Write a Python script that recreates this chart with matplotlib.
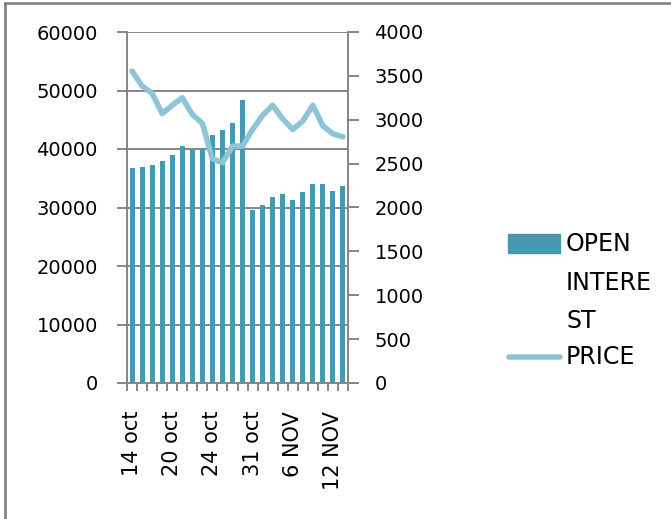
import numpy as np
import matplotlib
matplotlib.use("Agg")
import matplotlib.pyplot as plt
from matplotlib.patches import Rectangle
from matplotlib.lines import Line2D

# data
dates = ["14 oct", "15 oct", "16 oct", "17 oct", "20 oct", "21 oct", "22 oct",
         "23 oct", "24 oct", "25 oct", "28 oct", "29 oct", "31 oct", "1 NOV",
         "4 NOV", "5 NOV", "6 NOV", "7 NOV", "8 NOV", "11 NOV", "12 NOV", "13 NOV"]
open_interest = [36700, 36950, 37300, 38000, 39000, 40550, 39750, 40250, 42350,
                 43300, 44450, 48400, 29650, 30400, 31800, 32300, 31250, 32600,
                 34100, 34100, 32900, 33650]
price = [3555, 3385, 3300, 3070, 3165, 3250, 3060, 2960, 2555, 2510, 2700, 2700,
         2890, 3050, 3165, 3010, 2890, 2985, 3165, 2930, 2840, 2805]
shown_labels = ["14 oct", "20 oct", "24 oct", "31 oct", "6 NOV", "12 NOV"]

plt.rcParams['font.family'] = ['DejaVu Sans']
bar_col = '#4699B1'
line_col = '#8DC4D6'
grey = '#858585'

fig = plt.figure(figsize=(6.71, 5.19), dpi=100)
ax = fig.add_axes([127/671, 1 - 383/519, (348 - 127)/671, (383 - 32)/519])
x = np.arange(len(dates))

ax.set_axisbelow(True)
ax.yaxis.grid(True, color=grey, linewidth=1.4)
ax.bar(x, open_interest, width=0.5, color=bar_col, zorder=2)
ax.set_ylim(0, 60000)
ax.set_yticks(range(0, 60001, 10000))
ax.set_xlim(-0.5, len(dates) - 0.5)

ticks = [i for i, d in enumerate(dates) if d in shown_labels]
ax.set_xticks(ticks)
ax.set_xticklabels([dates[i] for i in ticks], rotation=90, fontsize=15)
ax.set_xticks(np.arange(-0.5, len(dates)), minor=True)
ax.tick_params(axis='x', which='major', length=0, pad=20)
ax.tick_params(axis='x', which='minor', length=6, color=grey, width=1.4)
ax.tick_params(axis='y', length=7, color=grey, width=1.4, labelsize=14, pad=14)

for s in ['top', 'right']:
    ax.spines[s].set_visible(False)
for s in ['left', 'bottom']:
    ax.spines[s].set_color(grey)
    ax.spines[s].set_linewidth(1.4)

ax2 = ax.twinx()
ax2.plot(x, price, color=line_col, linewidth=4, solid_capstyle='round', zorder=3)
ax2.set_ylim(0, 4000)
ax2.set_yticks(range(0, 4001, 500))
ax2.tick_params(axis='y', length=8, color=grey, width=1.4, labelsize=14, pad=11)
for s in ['top', 'left', 'bottom']:
    ax2.spines[s].set_visible(False)
ax2.spines['right'].set_color(grey)
ax2.spines['right'].set_linewidth(1.4)

# legend drawn by hand to get the wrapped label like the original
W, H = 671, 519
fig.add_artist(Rectangle((508/W, 1 - 253/H), 52/W, 19/H, transform=fig.transFigure,
                         color=bar_col))
fig.add_artist(Line2D([509/W, 560/W], [1 - 357/H, 1 - 357/H], transform=fig.transFigure,
                      color=line_col, linewidth=4, solid_capstyle='round'))
for txt, yy in [("OPEN", 244), ("INTERE", 283), ("ST", 321), ("PRICE", 357)]:
    fig.text(566/W, 1 - yy/H, txt, fontsize=17, va='center', ha='left')

# outer frame (left and top edges visible in the original)
fig.add_artist(Line2D([5/W, 5/W], [0, 1 - 3/H], transform=fig.transFigure,
                      color=grey, linewidth=2))
fig.add_artist(Line2D([5/W, 1], [1 - 3/H, 1 - 3/H], transform=fig.transFigure,
                      color=grey, linewidth=2))

fig.savefig("out.png", dpi=100)
